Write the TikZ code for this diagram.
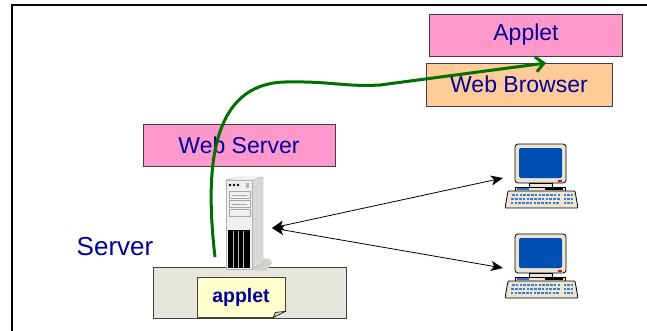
\documentclass[tikz,border=0pt]{standalone}
\usepackage{fontspec}
\setmainfont{Liberation Sans}
\usetikzlibrary{arrows.meta, positioning}
\definecolor{textblue}{RGB}{0,0,153}
\definecolor{pinkbox}{RGB}{255,153,204}
\definecolor{peachbox}{RGB}{255,204,153}
\definecolor{basegray}{RGB}{230,230,222}
\definecolor{notefill}{RGB}{255,255,204}
\definecolor{pathgreen}{RGB}{0,112,0}
\definecolor{beige}{RGB}{236,228,212}
\definecolor{screenblue}{RGB}{0,80,180}
\tikzset{
  tierbox/.style={draw=black!75, line width=1pt, fill=#1, minimum width=192pt,
                  minimum height=42pt, text=textblue,
                  font=\fontsize{23}{26}\selectfont},
  tierbox/.default=pinkbox,
  link/.style={{Stealth[length=12pt, width=10pt, inset=3pt]}-{Stealth[length=12pt, width=10pt, inset=3pt]},
               line width=0.8pt},
  webpath/.style={-{Straight Barb[length=8pt, width=15pt]}, line width=3pt,
                  draw=pathgreen},
  % desktop client: monitor, system unit and keyboard
  pc/.pic={
    \draw[fill=beige, rounded corners=3pt, line width=0.8pt] (0,0) rectangle (51,39);
    \fill[screenblue, rounded corners=2pt] (4,4) rectangle (47,34);
    \fill[red] (43,35.5) rectangle (47,37.5);
    \draw[fill=beige, line width=0.6pt] (14,39) rectangle (37,43);
    \draw[fill=beige, line width=0.6pt] (0,43) rectangle (50,47);
    \fill[screenblue!80] (2,44) rectangle (14,46);
    \fill[black] (30,44) rectangle (48,46);
    \draw[fill=beige, line width=0.8pt, rounded corners=1pt]
      (-7,47) -- (60,47) -- (63,64) -- (-10,64) -- cycle;
    \foreach \r in {0,1,2}
      \foreach \k in {0,...,12}
        \fill[screenblue!75] (-3+\k*3.8-\r*0.6,49.5+\r*4) rectangle ++(2.6,2.6);
    \foreach \r in {0,1,2}
      \foreach \k in {0,1,2}
        \fill[screenblue!75] (49+\k*3.4,49.5+\r*4) rectangle ++(2.2,2.6);
    \coordinate (-port) at (-12,34);
  },
  % tower server
  tower/.pic={
    \fill[gray!35] (24,91) -- (34,79) -- (44,80) -- (46,84) -- (40,92) -- cycle;
    \draw[fill=gray!30, draw=gray!60] (26,1) -- (37,-2) -- (37,84) -- (26,90) -- cycle;
    \draw[fill=gray!6, draw=gray!60] (0,1) -- (11,-2) -- (37,-2) -- (26,1) -- cycle;
    \draw[fill=gray!12, draw=gray!60] (0,1) rectangle (26,90);
    \foreach \i in {0,1,2}
      \fill (4+\i*4,6) circle (1.4pt);
    \fill[gray!60] (20,3.5) rectangle (23,9);
    \draw[gray!70] (3,12) rectangle (24,19) (3,21) rectangle (24,28)
                   (3,30) rectangle (24,37);
    \draw[gray!70] (6,16) -- (21,16) (6,25) -- (21,25);
    \fill[black] (2,51) rectangle (24,89);
    \foreach \x in {7,12,17}
      \draw[gray!55] (\x,52) -- (\x,89);
    \coordinate (-port) at (46,49);
  },
}

\begin{document}
\begin{tikzpicture}[x=1pt, y=-1pt]
  \useasboundingbox (0,0) rectangle (647,330);
  \draw[line width=1.3pt] (12,331) -- (12,5) -- (647,5);

  % client side
  \node[tierbox=peachbox, minimum width=186pt, minimum height=43pt]
    (browser) at (519,84.5) {Web Browser};
  \node[tierbox, minimum width=193pt, above=6pt of browser, xshift=7pt]
    (appletbox) {Applet};

  % server side
  \node[tierbox] (webserver) at (239,145) {Web Server};
  \node[text=textblue, font=\fontsize{26}{30}\selectfont] (serverlbl) at (115,247) {Server};
  \node[draw=black!75, line width=1pt, fill=basegray, minimum width=193pt,
        minimum height=51pt] (serverbase) at (249.5,292.5) {};
  \node[draw=black!75, line width=0.8pt, fill=notefill, minimum width=88pt,
        minimum height=40pt, text=textblue,
        font=\bfseries\fontsize{19.5}{22}\selectfont] (note) at (241,297) {applet};
  \fill[basegray] ([yshift=6pt, xshift=0.4pt]note.south east) -- ([xshift=0.4pt, yshift=-0.4pt]note.south east)
    -- ([xshift=-12pt, yshift=-0.4pt]note.south east) -- cycle;
  \draw[fill=notefill!70!gray, line width=0.6pt] ([yshift=6pt]note.south east)
    -- ([xshift=-12pt]note.south east) -- ([xshift=-10pt, yshift=5pt]note.south east) -- cycle;
  \pic (srv) at (226,179) {tower};

  % clients
  \pic (pcA) at (515,144) {pc};
  \pic (pcB) at (515,234) {pc};
  \draw[link] (srv-port) -- (pcA-port);
  \draw[link] (srv-port) -- (pcB-port);

  % download of the applet
  \coordinate (dlstart) at (215,257);
  \coordinate (dlend) at (546,63);
  \draw[webpath] (dlstart) .. controls (205,170) and (210,84) .. (285,82)
    .. controls (330,81) and (345,87) .. (380,85) -- (dlend);
\end{tikzpicture}
\end{document}
